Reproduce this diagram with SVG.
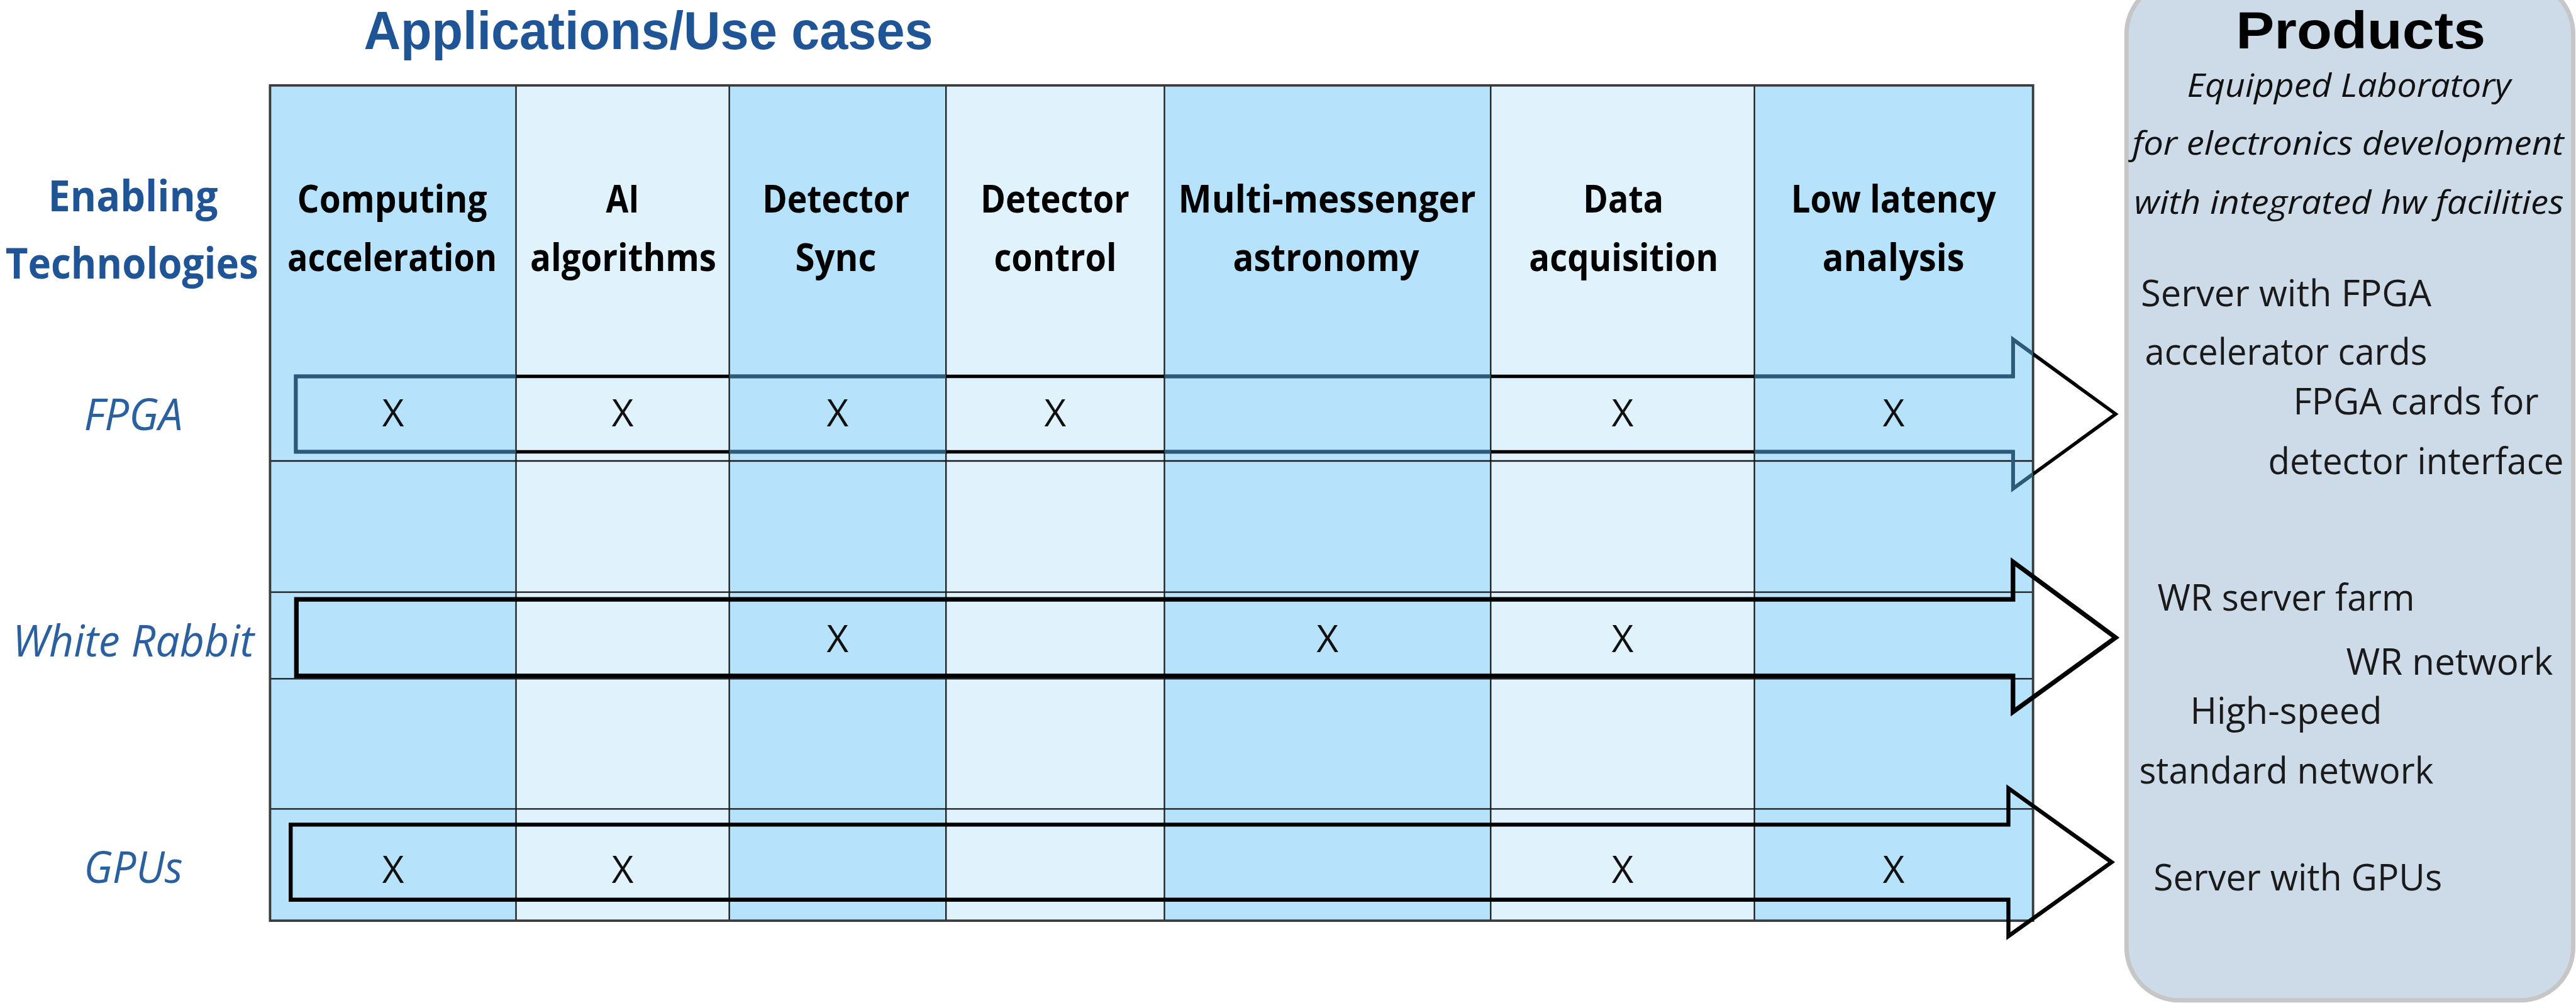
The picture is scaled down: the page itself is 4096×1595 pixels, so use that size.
<svg xmlns="http://www.w3.org/2000/svg" width="4096" height="1595" viewBox="0 0 4096 1595">
  <defs>
    <style>
      .title { font-family: "Liberation Sans", "Open Sans", sans-serif; font-weight: 700; font-size: 85px; fill: #1f5597; text-anchor: middle; }
      .side { font-family: "Open Sans", "Liberation Sans", sans-serif; font-weight: 700; font-size: 68px; fill: #1f5597; text-anchor: middle; }
      .hdr { font-family: "Open Sans", "Liberation Sans", sans-serif; font-weight: 700; font-size: 61px; fill: #000; text-anchor: middle; }
      .tech { font-family: "Open Sans", "Liberation Sans", sans-serif; font-style: italic; font-size: 70px; fill: #2a5fa0; text-anchor: middle; }
      .mark { font-family: "Open Sans", "Liberation Sans", sans-serif; font-size: 60px; fill: #111; text-anchor: middle; }
      .ptitle { font-family: "Liberation Sans", "Open Sans", sans-serif; font-weight: 700; font-size: 84px; fill: #000; text-anchor: middle; }
      .psub { font-family: "Open Sans", "Liberation Sans", sans-serif; font-style: italic; font-size: 51px; fill: #111; text-anchor: middle; }
      .item { font-family: "Open Sans", "Liberation Sans", sans-serif; font-size: 58px; fill: #1a1a1a; }
      .dark { fill: #b6e3fb; }
      .light { fill: #e0f2fc; }
      .grid { stroke: #1a1a1a; stroke-width: 2.3; fill: none; }
      .frame { stroke: #3a3a3a; stroke-width: 3.8; fill: none; }
      .arrow { fill: none; stroke: #000; stroke-linejoin: miter; stroke-miterlimit: 10; }
      .arrow-slate { fill: none; stroke: #2b5b7a; stroke-width: 5.8; stroke-linejoin: miter; stroke-miterlimit: 10; }
    </style>
    <!-- darker columns inside the table, where the FPGA outline reads as slate -->
    <clipPath id="darkCols">
      <rect x="429.4" y="135.8" width="391.1" height="1328.3"/>
      <rect x="1159.6" y="135.8" width="344.6" height="1328.3"/>
      <rect x="1851.5" y="135.8" width="518.8" height="1328.3"/>
      <rect x="2789.6" y="135.8" width="443.1" height="1328.3"/>
    </clipPath>
  </defs>

  <rect width="4096" height="1595" fill="#fff"/>

  <!-- headings -->
  <text class="title" x="1031" y="78" textLength="905" lengthAdjust="spacingAndGlyphs">Applications/Use cases</text>
  <g id="enabling-technologies">
    <text class="side" x="211.5" y="336.4" textLength="270" lengthAdjust="spacingAndGlyphs">Enabling</text>
    <text class="side" x="209.7" y="443" textLength="402" lengthAdjust="spacingAndGlyphs">Technologies</text>
  </g>

  <!-- applications table -->
  <g id="table">
    <rect class="dark" x="429.4" y="135.8" width="391.1" height="1328.3"/>
    <rect class="light" x="820.5" y="135.8" width="339.1" height="1328.3"/>
    <rect class="dark" x="1159.6" y="135.8" width="344.6" height="1328.3"/>
    <rect class="light" x="1504.2" y="135.8" width="347.3" height="1328.3"/>
    <rect class="dark" x="1851.5" y="135.8" width="518.8" height="1328.3"/>
    <rect class="light" x="2370.3" y="135.8" width="419.3" height="1328.3"/>
    <rect class="dark" x="2789.6" y="135.8" width="443.1" height="1328.3"/>
    <path class="grid" d="M820.5,135.8V1464.1M1159.6,135.8V1464.1M1504.2,135.8V1464.1M1851.5,135.8V1464.1M2370.3,135.8V1464.1M2789.6,135.8V1464.1"/>
    <path class="grid" d="M429.4,733H3232.7M429.4,941.7H3232.7M429.4,1079.4H3232.7M429.4,1286.3H3232.7"/>
    <rect class="frame" x="429.4" y="135.8" width="2803.3" height="1328.3"/>
  </g>

  <!-- column headers -->
  <g id="col-computing">
    <text class="hdr" x="623.6" y="338.2" textLength="302" lengthAdjust="spacingAndGlyphs">Computing</text>
    <text class="hdr" x="623.6" y="431.2" textLength="333" lengthAdjust="spacingAndGlyphs">acceleration</text>
  </g>
  <g id="col-ai">
    <text class="hdr" x="990" y="338.2" textLength="53" lengthAdjust="spacingAndGlyphs">AI</text>
    <text class="hdr" x="991" y="431.2" textLength="296" lengthAdjust="spacingAndGlyphs">algorithms</text>
  </g>
  <g id="col-detector-sync">
    <text class="hdr" x="1329.2" y="338.2" textLength="234" lengthAdjust="spacingAndGlyphs">Detector</text>
    <text class="hdr" x="1329" y="431.2" textLength="129" lengthAdjust="spacingAndGlyphs">Sync</text>
  </g>
  <g id="col-detector-control">
    <text class="hdr" x="1677.4" y="338.2" textLength="237" lengthAdjust="spacingAndGlyphs">Detector</text>
    <text class="hdr" x="1678" y="431.2" textLength="195" lengthAdjust="spacingAndGlyphs">control</text>
  </g>
  <g id="col-multi-messenger">
    <text class="hdr" x="2110" y="338.2" textLength="473" lengthAdjust="spacingAndGlyphs">Multi-messenger</text>
    <text class="hdr" x="2108.6" y="431.2" textLength="296" lengthAdjust="spacingAndGlyphs">astronomy</text>
  </g>
  <g id="col-data-acquisition">
    <text class="hdr" x="2581.3" y="338.2" textLength="128" lengthAdjust="spacingAndGlyphs">Data</text>
    <text class="hdr" x="2581.8" y="431.2" textLength="301" lengthAdjust="spacingAndGlyphs">acquisition</text>
  </g>
  <g id="col-low-latency">
    <text class="hdr" x="3010.7" y="338.2" textLength="326" lengthAdjust="spacingAndGlyphs">Low latency</text>
    <text class="hdr" x="3010.7" y="431.2" textLength="226" lengthAdjust="spacingAndGlyphs">analysis</text>
  </g>

  <!-- technology rows -->
  <g id="row-fpga">
    <text class="tech" x="212" y="683.7" textLength="157" lengthAdjust="spacingAndGlyphs">FPGA</text>
    <text class="mark" x="625" y="678.3">X</text>
    <text class="mark" x="990" y="678.3">X</text>
    <text class="mark" x="1331.9" y="678.3">X</text>
    <text class="mark" x="1677.9" y="678.3">X</text>
    <text class="mark" x="2580" y="678.3">X</text>
    <text class="mark" x="3011.2" y="678.3">X</text>
  </g>
  <g id="row-white-rabbit">
    <text class="tech" x="212" y="1043.8" textLength="384" lengthAdjust="spacingAndGlyphs">White Rabbit</text>
    <text class="mark" x="1331.9" y="1036.5">X</text>
    <text class="mark" x="2110.9" y="1036.5">X</text>
    <text class="mark" x="2580" y="1036.5">X</text>
  </g>
  <g id="row-gpus">
    <text class="tech" x="212" y="1403.9" textLength="157" lengthAdjust="spacingAndGlyphs">GPUs</text>
    <text class="mark" x="625" y="1403.9">X</text>
    <text class="mark" x="990" y="1403.9">X</text>
    <text class="mark" x="2580" y="1403.9">X</text>
    <text class="mark" x="3011.2" y="1403.9">X</text>
  </g>

  <!-- products panel -->
  <g id="products">
    <rect x="3381.3" y="-30" width="710.2" height="1620.8" rx="84" ry="84" fill="#cddbe8" stroke="#c6c6c6" stroke-width="7"/>
    <text class="ptitle" x="3753.7" y="77" textLength="397" lengthAdjust="spacingAndGlyphs">Products</text>
    <text class="psub" x="3735" y="154" textLength="515" lengthAdjust="spacingAndGlyphs">Equipped Laboratory</text>
    <text class="psub" x="3733.6" y="246" textLength="686" lengthAdjust="spacingAndGlyphs">for electronics development</text>
    <text class="psub" x="3735" y="340" textLength="683" lengthAdjust="spacingAndGlyphs">with integrated hw facilities</text>
    <text class="item" x="3404" y="486.8" textLength="462" lengthAdjust="spacingAndGlyphs">Server with FPGA</text>
    <text class="item" x="3410.5" y="579.8" textLength="449" lengthAdjust="spacingAndGlyphs">accelerator cards</text>
    <text class="item" x="3646.6" y="659.1" textLength="390" lengthAdjust="spacingAndGlyphs">FPGA cards for</text>
    <text class="item" x="3606.5" y="753.9" textLength="470" lengthAdjust="spacingAndGlyphs">detector interface</text>
    <text class="item" x="3430.5" y="970.9" textLength="409" lengthAdjust="spacingAndGlyphs">WR server farm</text>
    <text class="item" x="3730.4" y="1073" textLength="329" lengthAdjust="spacingAndGlyphs">WR network</text>
    <text class="item" x="3482.5" y="1151.4" textLength="305" lengthAdjust="spacingAndGlyphs">High-speed</text>
    <text class="item" x="3401.4" y="1246.2" textLength="468" lengthAdjust="spacingAndGlyphs">standard network</text>
    <text class="item" x="3424.2" y="1415.8" textLength="459" lengthAdjust="spacingAndGlyphs">Server with GPUs</text>
  </g>

  <!-- technology-to-product arrows -->
  <g id="connectors">
    <path id="arrow-fpga" class="arrow" stroke-width="5.5" d="M470.4,598.5H3200.8V539.7L3364,658.4L3200.8,777.1V718.4H470.4Z"/>
    <path class="arrow-slate" clip-path="url(#darkCols)" d="M470.4,598.5H3200.8V539.7L3364,658.4L3200.8,777.1V718.4H470.4Z"/>
    <path id="arrow-white-rabbit" class="arrow" stroke-width="7.3" d="M471.3,953.1H3200.8V893.4L3364,1013.9L3200.8,1132V1074.8H471.3Z"/>
    <path id="arrow-gpus" class="arrow" stroke-width="6.4" d="M462.2,1311.4H3193.5V1253.5L3357.6,1371.1L3193.5,1488.7V1430.8H462.2Z"/>
  </g>
</svg>
